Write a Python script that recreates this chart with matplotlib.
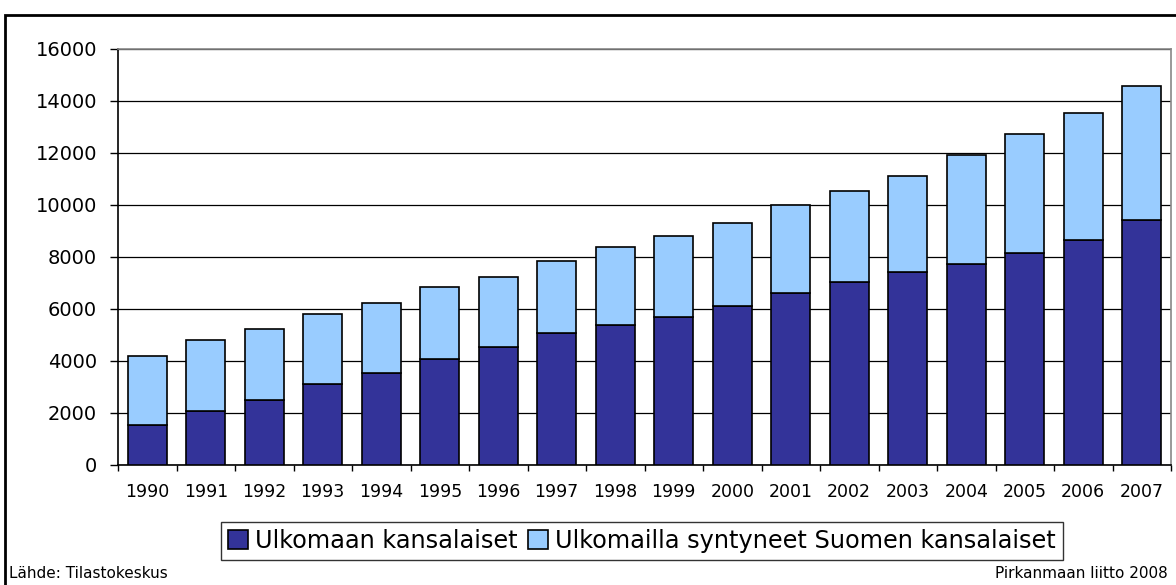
import numpy as np
import matplotlib.pyplot as plt
from matplotlib.patches import Rectangle

years = ['1990', '1991', '1992', '1993', '1994', '1995', '1996', '1997', '1998',
         '1999', '2000', '2001', '2002', '2003', '2004', '2005', '2006', '2007']
# Ulkomaan kansalaiset
foreign = [1520, 2070, 2500, 3100, 3530, 4080, 4540, 5080, 5390,
           5700, 6120, 6600, 7050, 7420, 7730, 8150, 8650, 9440]
# total height of stacked bar
totals = [4200, 4820, 5250, 5800, 6230, 6850, 7230, 7850, 8400,
          8820, 9300, 10000, 10540, 11100, 11940, 12730, 13540, 14560]
finnish = [t - f for t, f in zip(totals, foreign)]

plt.rcParams['font.family'] = ['DejaVu Sans']

fig = plt.figure(figsize=(11.76, 5.85), dpi=100)
ax = fig.add_axes([118 / 1176, 1 - 465 / 585, (1171 - 118) / 1176, (465 - 49) / 585])

x = np.arange(len(years))
ax.bar(x, foreign, width=0.667, color='#333399', edgecolor='black', linewidth=1.2,
       label='Ulkomaan kansalaiset', zorder=3)
ax.bar(x, finnish, width=0.667, bottom=foreign, color='#99CCFF', edgecolor='black',
       linewidth=1.2, label='Ulkomailla syntyneet Suomen kansalaiset', zorder=3)

ax.set_xlim(-0.5, len(years) - 0.5)
ax.set_ylim(0, 16000)
ax.set_yticks(np.arange(0, 16001, 2000))
ax.tick_params(axis='y', length=6, width=1, labelsize=14, pad=9)
ax.set_xticks(x)
ax.set_xticklabels(years)
ax.set_xticks(np.arange(-0.5, len(years)), minor=True)
ax.tick_params(axis='x', which='major', length=0, labelsize=12.5, pad=13)
ax.tick_params(axis='x', which='minor', length=4, width=1)

ax.grid(axis='y', color='black', linewidth=0.9, zorder=0)
ax.set_axisbelow(True)
for s in ['left', 'bottom']:
    ax.spines[s].set_color('black')
    ax.spines[s].set_linewidth(1.2)
for s in ['top', 'right']:
    ax.spines[s].set_color('#888888')
    ax.spines[s].set_linewidth(1.2)

leg = fig.legend(loc='center', bbox_to_anchor=(642 / 1176, 1 - 541 / 585), ncol=2,
                 fontsize=17.3, frameon=True, fancybox=False, edgecolor='black',
                 handlelength=0.8, handleheight=0.8, handletextpad=0.3,
                 columnspacing=0.45, borderpad=0.3, borderaxespad=0)
leg.get_frame().set_linewidth(1.0)

# outer frame
fig.patches.append(Rectangle((5 / 1176, -0.1), 2, 0.1 + 1 - 15 / 585,
                             transform=fig.transFigure, fill=False,
                             edgecolor='black', linewidth=2))

fig.text(9 / 1176, 1 - 574 / 585, 'Lähde: Tilastokeskus', fontsize=11,
         ha='left', va='center')
fig.text(1168 / 1176, 1 - 574 / 585, 'Pirkanmaan liitto 2008', fontsize=11,
         ha='right', va='center')

fig.savefig('out.png', dpi=100)
